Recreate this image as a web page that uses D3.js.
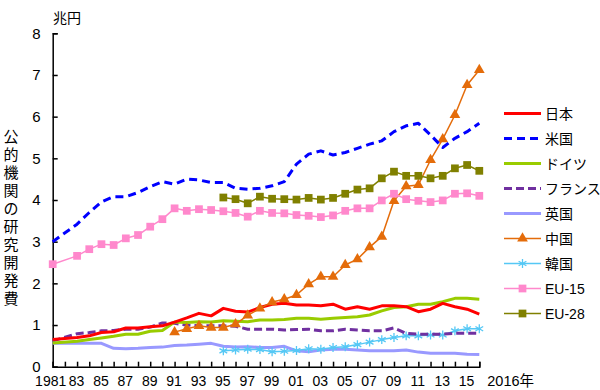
<!DOCTYPE html>
<html><head><meta charset="utf-8">
<script src="https://cdn.jsdelivr.net/npm/d3@7/dist/d3.min.js"></script>
<style>
html,body{margin:0;padding:0;background:#fff;}
text{font-family:"Liberation Sans","Noto Sans CJK JP",sans-serif;fill:#000;}
</style></head>
<body><svg id="c" width="600" height="390"></svg>
<script>
const years = d3.range(1981, 2017);
const yTicks = [0,1,2,3,4,5,6,7,8];
const xLabelYears = [1981,1983,1985,1987,1989,1991,1993,1995,1997,1999,2001,2003,2005,2007,2009,2011,2013,2015];
const xLabels = ["1981","83","85","87","89","91","93","95","97","99","01","03","05","07","09","11","13","15"];
const lastLabel = "2016年";
const unitLabel = "兆円";
const yTitle = "公的機関の研究開発費";

// values by year 1981..2016 (null = no data)
const japan  = [0.65,null,0.70,0.74,0.82,0.84,0.93,0.93,0.96,0.98,1.07,1.17,1.28,1.22,1.40,1.33,1.31,1.42,1.50,1.52,1.48,1.48,1.46,1.50,1.38,1.44,1.38,1.46,1.46,1.44,1.32,1.38,1.52,1.44,1.38,1.26];
const usa    = [3.00,null,3.42,3.70,3.95,4.08,4.08,4.18,4.32,4.44,4.38,4.50,4.48,4.42,4.42,4.28,4.26,4.28,4.34,4.44,4.86,5.10,5.18,5.08,5.14,5.24,5.34,5.42,5.64,5.78,5.84,5.56,5.26,5.48,5.64,5.84];
const germany= [0.57,null,0.61,0.65,0.69,0.73,0.78,0.78,0.85,0.87,1.07,1.06,1.08,1.07,1.10,1.09,1.08,1.12,1.12,1.13,1.16,1.16,1.14,1.16,1.18,1.20,1.24,1.34,1.42,1.44,1.50,1.50,1.56,1.64,1.64,1.62];
const france = [0.62,null,0.79,0.82,0.86,0.87,0.90,0.90,0.95,1.05,1.04,1.00,0.98,0.98,0.98,0.97,0.90,0.90,0.90,0.88,0.89,0.90,0.86,0.86,0.90,0.88,0.86,0.86,0.93,0.80,0.78,0.78,0.78,0.80,0.80,0.80];
const uk     = [0.56,null,0.56,0.56,0.56,0.44,0.43,0.44,0.46,0.47,0.51,0.52,0.54,0.56,0.49,0.47,0.48,0.46,0.46,0.49,0.38,0.36,0.40,0.42,0.42,0.40,0.38,0.38,0.38,0.40,0.35,0.32,0.32,0.32,0.30,0.29];
const china  = [null,null,null,null,null,null,null,null,null,null,0.83,0.91,0.98,0.94,0.94,1.02,1.23,1.40,1.55,1.62,1.72,1.98,2.16,2.16,2.44,2.58,2.87,3.12,3.98,4.33,4.36,4.96,5.46,6.04,6.76,7.12];
const korea  = [null,null,null,null,null,null,null,null,null,null,null,null,null,null,0.38,0.40,0.42,0.41,0.36,0.37,0.39,0.43,0.42,0.46,0.48,0.53,0.59,0.65,0.70,0.74,0.74,0.76,0.76,0.86,0.91,0.91];
const eu15   = [2.46,null,2.66,2.82,2.94,2.92,3.08,3.16,3.36,3.54,3.80,3.74,3.78,3.76,3.73,3.69,3.60,3.74,3.69,3.68,3.64,3.62,3.59,3.63,3.74,3.80,3.80,3.99,4.15,4.02,3.98,3.95,3.99,4.15,4.16,4.10];
const eu28   = [null,null,null,null,null,null,null,null,null,null,null,null,null,null,4.06,4.02,3.92,4.08,4.03,4.02,4.01,4.05,4.01,4.05,4.15,4.25,4.28,4.52,4.68,4.58,4.58,4.52,4.58,4.76,4.84,4.70];

const seriesNames = ["日本","米国","ドイツ","フランス","英国","中国","韓国","EU-15","EU-28"];
const seriesValues = [japan, usa, germany, france, uk, china, korea, eu15, eu28];

const styles = [
  {color:"#FF0000", width:3, dash:null, marker:null},
  {color:"#0000FF", width:3, dash:"8,5", marker:null},
  {color:"#99CC00", width:3, dash:null, marker:null},
  {color:"#7030A0", width:3, dash:"8,4", marker:null},
  {color:"#9999FF", width:3, dash:null, marker:null},
  {color:"#E46C0A", width:1.5, dash:null, marker:"triangle"},
  {color:"#55C8F5", width:1.5, dash:null, marker:"asterisk"},
  {color:"#FF88CC", width:1.5, dash:null, marker:"square"},
  {color:"#808000", width:1.5, dash:null, marker:"square"}
];

const svg = d3.select("#c");
const x = d3.scaleLinear().domain([1981, 2016]).range([52.7, 479.3]);
const y = d3.scaleLinear().domain([0, 8]).range([366.7, 33.3]);

// axes
const yAxis = d3.axisLeft(y).tickValues(yTicks).tickSize(-5).tickPadding(12).tickFormat(d3.format("d"));
const gy = svg.append("g").attr("transform", `translate(${x.range()[0]},0)`).call(yAxis);
gy.select(".domain").attr("stroke","#000").attr("stroke-width",1.5);
gy.selectAll(".tick line").attr("stroke","#000").attr("stroke-width",1.5);
gy.selectAll(".tick text").attr("font-size",15).attr("font-family","Liberation Sans, sans-serif").attr("fill","#000");

const xAxis = d3.axisBottom(x).tickValues(years).tickSize(-5).tickFormat("");
const gx = svg.append("g").attr("transform", `translate(0,${y(0)})`).call(xAxis);
gx.select(".domain").attr("stroke","#000").attr("stroke-width",1.5);
gx.selectAll(".tick line").attr("stroke","#000").attr("stroke-width",1.5);

svg.append("g").selectAll("text").data(xLabelYears).join("text")
  .attr("x", d => d === 1981 ? x(d) - 2 : x(d) - 0.5).attr("y", 386).attr("text-anchor","middle")
  .attr("font-size",14)
  .text((d,i) => xLabels[i]);
svg.append("text").attr("x", x(2016) + 8).attr("y", 386).attr("font-size",14.5).text(lastLabel);

svg.append("text").attr("x", 53).attr("y", 23).attr("font-size",14).text(unitLabel);
svg.append("g").selectAll("text").data(Array.from(yTitle)).join("text")
  .attr("x", 11).attr("y", (d,i) => 142 + i*18).attr("text-anchor","middle")
  .attr("font-size",15).text(d => d);

// series
const line = d3.line().x(d => x(d.year)).y(d => y(d.v));
const symbols = {triangle:d3.symbolTriangle, square:d3.symbolSquare, asterisk:d3.symbolAsterisk};
const symSize = {triangle:50, square:60, asterisk:56};

function drawMarker(g, type, color, px, py){
  const p = g.append("path").attr("transform",`translate(${px},${py})`)
    .attr("d", d3.symbol().type(symbols[type]).size(symSize[type])());
  if (type === "asterisk") p.attr("fill","none").attr("stroke",color).attr("stroke-width",1.3);
  else p.attr("fill",color).attr("stroke","none");
}

const order = [4,6,3,2,0,5,7,8,1];
order.forEach(si => {
  const st = styles[si];
  const pts = years.map((yr,i) => ({year:yr, v:seriesValues[si][i]})).filter(d => d.v != null);
  const g = svg.append("g");
  g.append("path").datum(pts).attr("d", line).attr("fill","none")
    .attr("stroke", st.color).attr("stroke-width", st.width)
    .attr("stroke-dasharray", st.dash).attr("stroke-linejoin","round");
  if (st.marker) pts.forEach(d => drawMarker(g, st.marker, st.color, x(d.year), y(d.v)));
});

// legend
const lg = svg.append("g");
seriesNames.forEach((name,i) => {
  const st = styles[i];
  const ly = 113.5 + i*25;
  lg.append("line").attr("x1",504).attr("x2",541).attr("y1",ly).attr("y2",ly)
    .attr("stroke",st.color).attr("stroke-width",st.width).attr("stroke-dasharray", st.dash);
  if (st.marker) drawMarker(lg, st.marker, st.color, 522.5, ly);
  lg.append("text").attr("x",545).attr("y",ly+5.5).attr("font-size",14).text(name);
});
</script></body></html>
